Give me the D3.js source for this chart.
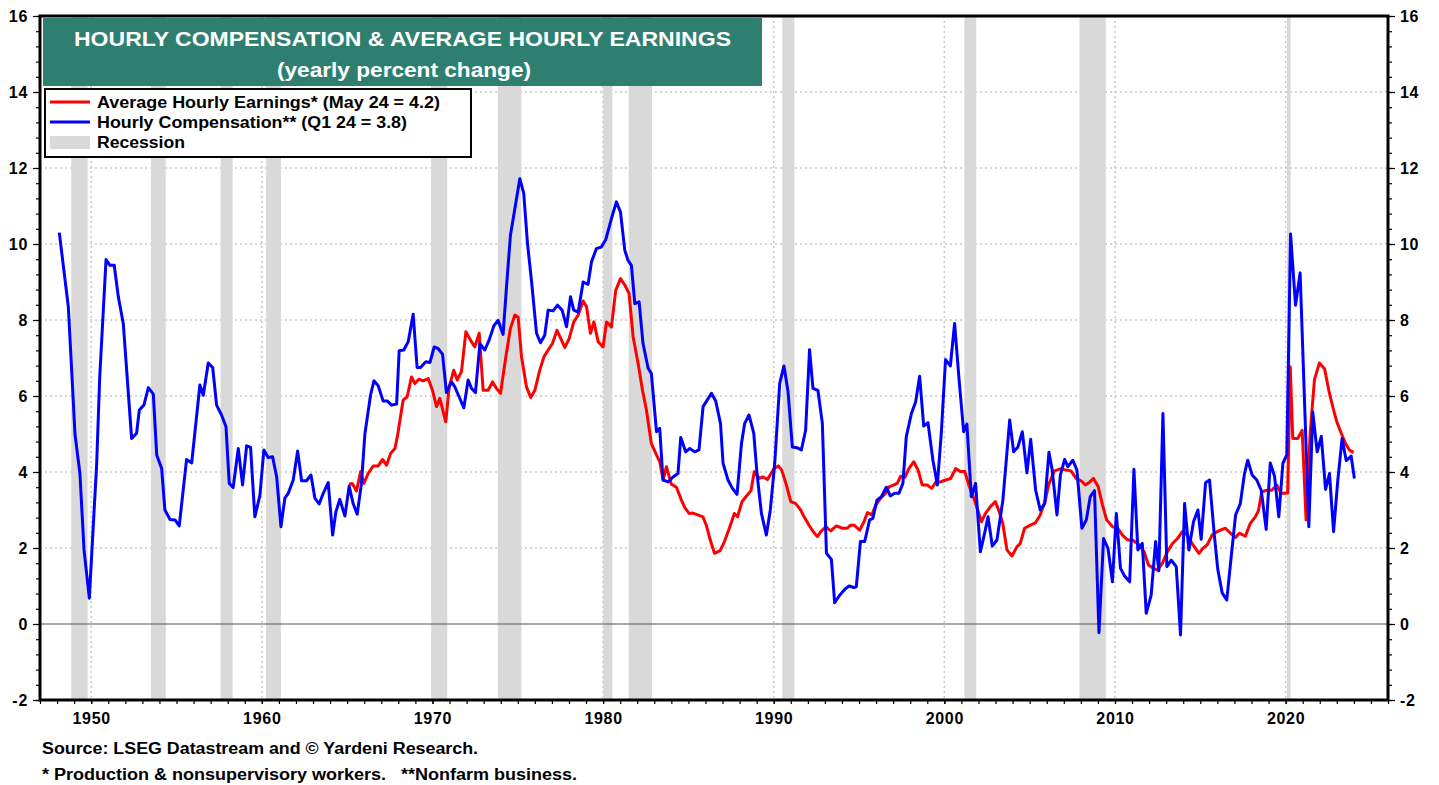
<!DOCTYPE html>
<html>
<head>
<meta charset="utf-8">
<script src="https://cdn.jsdelivr.net/npm/d3@7"></script>
<style>
  body { margin: 0; background: #fff; }
  svg { display: block; font-family: Arial, "Liberation Sans", sans-serif; }
</style>
</head>
<body>
<div id="chart"></div>
<script>
// Hourly compensation, nonfarm business (yoy %, quarterly) [year, value]
const hourlyComp = [
  [1948.13,10.30],[1948.66,8.35],[1949.05,5.0],[1949.34,3.96],[1949.58,1.95],[1949.89,0.68],
  [1950.32,4.2],[1950.5,6.5],[1950.87,9.59],[1951.1,9.44],[1951.35,9.44],[1951.59,8.61],[1951.88,7.91],
  [1952.37,4.88],[1952.66,5.02],[1952.82,5.63],[1953.09,5.76],[1953.35,6.22],[1953.64,6.05],[1953.84,4.45],
  [1954.13,4.09],[1954.32,3.0],[1954.62,2.75],[1954.91,2.74],[1955.16,2.58],[1955.59,4.33],[1955.89,4.24],
  [1956.37,6.29],[1956.57,6.02],[1956.86,6.87],[1957.12,6.75],[1957.35,5.76],[1957.64,5.50],[1957.9,5.19],
  [1958.09,3.70],[1958.32,3.59],[1958.62,4.62],[1958.87,3.66],[1959.11,4.69],[1959.34,4.65],[1959.59,2.82],
  [1959.89,3.39],[1960.12,4.58],[1960.37,4.38],[1960.63,4.40],[1960.87,3.87],[1961.12,2.56],[1961.35,3.31],
  [1961.55,3.44],[1961.84,3.79],[1962.1,4.55],[1962.33,3.77],[1962.62,3.77],[1962.88,3.92],[1963.11,3.31],
  [1963.36,3.16],[1963.6,3.44],[1963.89,3.72],[1964.15,2.34],[1964.34,2.95],[1964.57,3.28],[1964.87,2.84],
  [1965.12,3.63],[1965.35,3.17],[1965.59,2.89],[1965.84,3.70],[1966.04,5.0],[1966.37,6.02],[1966.57,6.40],
  [1966.82,6.27],[1967.11,5.87],[1967.35,5.87],[1967.6,5.76],[1967.9,5.79],[1968.05,7.19],[1968.32,7.21],
  [1968.58,7.43],[1968.87,8.15],[1969.1,6.75],[1969.3,6.75],[1969.61,6.90],[1969.85,6.88],[1970.1,7.29],
  [1970.33,7.25],[1970.59,7.10],[1970.82,6.09],[1971.12,6.37],[1971.31,6.24],[1971.56,5.98],[1971.84,5.69],
  [1972.09,6.42],[1972.29,6.20],[1972.52,6.09],[1972.78,7.38],[1973.07,7.21],[1973.32,7.47],[1973.6,7.85],
  [1973.85,7.99],[1974.14,7.62],[1974.34,8.87],[1974.57,10.23],[1975.12,11.72],[1975.35,11.33],[1975.57,10.01],
  [1975.8,9.05],[1976.1,7.65],[1976.33,7.40],[1976.58,7.60],[1976.78,8.26],[1977.07,8.24],[1977.33,8.39],
  [1977.6,8.26],[1977.86,7.82],[1978.09,8.61],[1978.28,8.26],[1978.54,8.21],[1978.83,9.00],[1979.12,8.94],
  [1979.32,9.53],[1979.61,9.88],[1979.9,9.92],[1980.16,10.12],[1980.49,10.67],[1980.78,11.11],[1981.02,10.84],
  [1981.27,9.84],[1981.46,9.57],[1981.66,9.44],[1981.86,8.43],[1982.11,8.48],[1982.34,7.38],[1982.64,6.73],
  [1982.83,6.59],[1983.13,5.06],[1983.32,5.15],[1983.51,3.79],[1983.81,3.74],[1984.1,3.87],[1984.39,3.96],
  [1984.55,4.91],[1984.84,4.53],[1985.08,4.62],[1985.37,4.53],[1985.62,4.58],[1985.86,5.72],[1986.35,6.07],
  [1986.6,5.87],[1986.88,5.28],[1987.03,4.23],[1987.32,3.79],[1987.58,3.57],[1987.85,3.41],[1988.11,4.75],
  [1988.3,5.28],[1988.55,5.50],[1988.83,5.02],[1989.02,3.96],[1989.28,2.91],[1989.57,2.34],[1989.8,3.0],
  [1990.06,4.23],[1990.35,6.33],[1990.6,6.79],[1990.84,6.11],[1991.09,4.66],[1991.36,4.64],[1991.62,4.58],
  [1991.87,5.10],[1992.1,7.22],[1992.3,6.20],[1992.59,6.15],[1992.85,5.28],[1993.09,1.86],[1993.38,1.70],
  [1993.57,0.56],[1993.87,0.76],[1994.16,0.91],[1994.41,1.0],[1994.69,0.96],[1994.84,0.98],[1995.08,2.17],
  [1995.33,2.17],[1995.62,2.74],[1995.81,2.78],[1996.05,3.26],[1996.31,3.35],[1996.6,3.60],[1996.83,3.37],
  [1997.09,3.44],[1997.34,3.44],[1997.57,3.70],[1997.77,4.93],[1998.07,5.54],[1998.32,5.85],[1998.55,6.52],
  [1998.79,5.21],[1999.04,5.30],[1999.33,4.31],[1999.59,3.66],[1999.82,5.02],[2000.07,6.96],[2000.35,6.79],
  [2000.6,7.91],[2000.85,6.50],[2001.13,5.06],[2001.32,5.26],[2001.58,3.35],[2001.83,3.70],[2002.11,1.90],
  [2002.36,2.39],[2002.56,2.82],[2002.81,2.05],[2003.08,2.21],[2003.43,3.26],[2003.83,5.37],[2004.06,4.53],
  [2004.31,4.66],[2004.57,5.06],[2004.84,3.98],[2005.06,4.86],[2005.35,3.52],[2005.62,3.0],[2005.88,3.17],
  [2006.13,4.52],[2006.32,4.05],[2006.6,2.87],[2006.8,3.92],[2007.05,4.33],[2007.24,4.14],[2007.53,4.31],
  [2007.77,4.05],[2008.06,2.52],[2008.32,2.74],[2008.55,3.35],[2008.8,3.51],[2009.06,-0.23],[2009.33,2.25],
  [2009.59,1.99],[2009.85,1.11],[2010.08,2.91],[2010.32,1.47],[2010.56,1.26],[2010.86,1.11],[2011.11,4.07],
  [2011.34,1.95],[2011.6,2.12],[2011.83,0.28],[2012.12,0.76],[2012.38,2.17],[2012.57,1.40],[2012.81,5.54],
  [2013.04,1.51],[2013.3,1.68],[2013.59,1.51],[2013.84,-0.29],[2014.08,3.17],[2014.33,1.95],[2014.6,2.69],
  [2014.86,3.0],[2015.05,2.23],[2015.31,3.72],[2015.54,3.79],[2015.83,2.30],[2016.03,1.42],[2016.28,0.82],
  [2016.55,0.63],[2016.81,1.77],[2017.07,2.87],[2017.34,3.16],[2017.59,3.96],[2017.78,4.31],[2018.04,3.92],
  [2018.31,3.79],[2018.57,3.52],[2018.86,2.49],[2019.1,4.24],[2019.35,3.89],[2019.6,2.82],[2019.84,4.23],
  [2020.07,4.45],[2020.29,10.26],[2020.58,8.39],[2020.85,9.24],[2021.36,2.56],[2021.59,5.58],[2021.85,4.53],
  [2022.09,4.94],[2022.34,3.54],[2022.57,3.96],[2022.81,2.43],[2023.06,3.79],[2023.31,4.88],[2023.55,4.30],
  [2023.84,4.42],[2024.03,3.83]
];

// Average hourly earnings, production & nonsupervisory workers (yoy %) [year, value]
const avgHourlyEarnings = [
  [1965.12,3.68],[1965.3,3.70],[1965.55,3.50],[1965.79,4.01],[1965.98,3.70],[1966.23,3.96],[1966.53,4.16],
  [1966.82,4.16],[1967.08,4.33],[1967.31,4.18],[1967.55,4.49],[1967.8,4.62],[1967.95,4.95],[1968.28,5.89],
  [1968.52,5.98],[1968.77,6.50],[1968.97,6.33],[1969.2,6.44],[1969.45,6.40],[1969.75,6.46],[1970.0,6.15],
  [1970.24,5.72],[1970.43,5.94],[1970.78,5.32],[1970.98,6.24],[1971.25,6.68],[1971.45,6.42],[1971.7,6.64],
  [1971.96,7.69],[1972.23,7.47],[1972.48,7.29],[1972.74,7.65],[1972.97,6.15],[1973.26,6.15],[1973.52,6.37],
  [1973.75,6.20],[1973.99,6.07],[1974.3,7.03],[1974.57,7.78],[1974.83,8.13],[1975.02,8.08],[1975.22,7.03],
  [1975.51,6.24],[1975.76,5.96],[1976.0,6.15],[1976.29,6.68],[1976.53,7.03],[1976.78,7.21],[1977.03,7.38],
  [1977.3,7.73],[1977.56,7.47],[1977.76,7.28],[1978.01,7.51],[1978.28,7.95],[1978.54,8.13],[1978.83,8.50],
  [1979.03,8.35],[1979.26,7.65],[1979.46,7.95],[1979.71,7.43],[1980.0,7.29],[1980.2,7.95],[1980.49,7.82],
  [1980.74,8.78],[1981.02,9.09],[1981.27,8.92],[1981.52,8.70],[1981.76,7.56],[1982.05,6.86],[1982.31,6.15],
  [1982.54,5.63],[1982.83,4.75],[1983.13,4.45],[1983.32,4.27],[1983.52,3.79],[1983.71,4.14],[1984.0,3.68],
  [1984.3,3.60],[1984.59,3.26],[1984.79,3.06],[1985.04,2.91],[1985.27,2.92],[1985.62,2.86],[1985.85,2.82],
  [1986.05,2.60],[1986.28,2.21],[1986.53,1.86],[1986.86,1.93],[1987.11,2.17],[1987.4,2.52],[1987.69,2.91],
  [1987.88,2.82],[1988.14,3.22],[1988.37,3.35],[1988.67,3.51],[1988.86,4.01],[1989.15,3.83],[1989.38,3.87],
  [1989.63,3.80],[1990.02,4.09],[1990.27,4.16],[1990.47,4.05],[1990.74,3.66],[1991.0,3.22],[1991.29,3.17],
  [1991.58,3.0],[1991.78,2.82],[1992.07,2.60],[1992.36,2.40],[1992.56,2.30],[1992.76,2.43],[1993.05,2.56],
  [1993.34,2.45],[1993.67,2.58],[1994.02,2.52],[1994.31,2.52],[1994.51,2.60],[1994.71,2.60],[1995.04,2.47],
  [1995.29,2.69],[1995.49,2.93],[1995.75,2.87],[1995.98,3.13],[1996.27,3.31],[1996.56,3.44],[1996.76,3.61],
  [1997.05,3.66],[1997.24,3.70],[1997.44,3.89],[1997.69,3.86],[1997.92,4.09],[1998.21,4.27],[1998.46,4.05],
  [1998.7,3.66],[1998.99,3.66],[1999.25,3.57],[1999.52,3.74],[1999.77,3.74],[2000.07,3.79],[2000.37,3.83],
  [2000.66,4.09],[2000.95,4.01],[2001.2,4.01],[2001.43,3.66],[2001.73,3.31],[2002.02,2.91],[2002.17,2.69],
  [2002.41,2.91],[2002.7,3.09],[2002.99,3.22],[2003.22,2.95],[2003.42,2.65],[2003.67,1.95],[2003.96,1.79],
  [2004.25,2.03],[2004.45,2.12],[2004.7,2.52],[2005.04,2.60],[2005.33,2.66],[2005.62,2.87],[2005.92,3.26],
  [2006.11,3.66],[2006.45,4.03],[2006.84,4.09],[2007.13,4.05],[2007.42,4.03],[2007.72,3.83],[2008.01,3.77],
  [2008.26,3.66],[2008.53,3.74],[2008.74,3.83],[2009.02,3.61],[2009.27,3.13],[2009.51,2.74],[2009.86,2.56],
  [2010.15,2.52],[2010.44,2.34],[2010.74,2.21],[2011.03,2.21],[2011.42,2.08],[2011.71,1.90],[2011.96,1.55],
  [2012.24,1.47],[2012.49,1.42],[2012.78,1.60],[2013.07,1.90],[2013.37,2.12],[2013.66,2.25],[2013.95,2.43],
  [2014.24,2.34],[2014.57,2.08],[2014.92,1.86],[2015.15,1.99],[2015.4,2.08],[2015.69,2.34],[2015.99,2.43],
  [2016.28,2.49],[2016.47,2.52],[2016.76,2.39],[2017.06,2.28],[2017.29,2.39],[2017.64,2.31],[2017.93,2.65],
  [2018.22,2.82],[2018.41,2.98],[2018.6,3.48],[2018.9,3.52],[2019.19,3.52],[2019.48,3.66],[2019.73,3.44],
  [2019.93,3.44],[2020.12,3.45],[2020.27,6.77],[2020.42,4.88],[2020.71,4.88],[2020.97,5.10],[2021.2,2.74],
  [2021.44,5.02],[2021.69,6.43],[2021.98,6.87],[2022.28,6.72],[2022.53,6.15],[2022.76,5.72],[2023.0,5.32],
  [2023.26,5.02],[2023.51,4.75],[2023.74,4.58],[2023.98,4.51]
];

// NBER recessions [start, end]
const recessions = [
  [1948.83,1949.79],[1953.5,1954.37],[1957.58,1958.29],[1960.25,1961.12],[1969.92,1970.87],
  [1973.83,1975.21],[1980.0,1980.54],[1981.5,1982.87],[1990.5,1991.21],[2001.17,2001.87],
  [2007.92,2009.46],[2020.08,2020.29]
];

const yMajor = [-2, 0, 2, 4, 6, 8, 10, 12, 14, 16];
const xMajor = [1950, 1960, 1970, 1980, 1990, 2000, 2010, 2020];

const titleLines = ["HOURLY COMPENSATION & AVERAGE HOURLY EARNINGS", "(yearly percent change)"];
const legendItems = [
  { label: "Average Hourly Earnings* (May 24 = 4.2)", color: "#ff0000", type: "line", len: 343 },
  { label: "Hourly Compensation** (Q1 24 = 3.8)", color: "#0000ff", type: "line", len: 310 },
  { label: "Recession", color: "#d9d9d9", type: "band", len: 88 }
];
const footnotes = [
  "Source: LSEG Datastream and © Yardeni Research.",
  "* Production & nonsupervisory workers.   **Nonfarm business."
];

const W = 1439, H = 785;
const plot = { left: 40, right: 1388, top: 16, bottom: 700 };

const svg = d3.select("#chart").append("svg")
  .attr("width", W).attr("height", H)
  .attr("viewBox", `0 0 ${W} ${H}`);

const x = d3.scaleLinear().domain([1947, 2026]).range([plot.left, plot.right]);
const y = d3.scaleLinear().domain([-2, 16]).range([plot.bottom, plot.top]);

// gridlines
const grid = svg.append("g");
grid.selectAll("line.h")
  .data(yMajor.filter(d => d !== 0 && d !== -2 && d !== 16))
  .join("line")
  .attr("x1", plot.left).attr("x2", plot.right)
  .attr("y1", d => y(d)).attr("y2", d => y(d))
  .attr("stroke", "#c8c8c8").attr("stroke-width", 1.5).attr("stroke-dasharray", "2,3");
grid.selectAll("line.v")
  .data(xMajor)
  .join("line")
  .attr("x1", d => x(d)).attr("x2", d => x(d))
  .attr("y1", plot.top).attr("y2", plot.bottom)
  .attr("stroke", "#c8c8c8").attr("stroke-width", 1.5).attr("stroke-dasharray", "2,3");

// recession bands
svg.append("g").selectAll("rect")
  .data(recessions)
  .join("rect")
  .attr("x", d => x(d[0]))
  .attr("width", d => Math.max(x(d[1]) - x(d[0]), 2))
  .attr("y", plot.top).attr("height", plot.bottom - plot.top)
  .attr("fill", "#d9d9d9");

// zero line
svg.append("line")
  .attr("x1", plot.left).attr("x2", plot.right)
  .attr("y1", y(0)).attr("y2", y(0))
  .attr("stroke", "#555").attr("stroke-width", 1.2);

// series
const line = d3.line().x(d => x(d[0])).y(d => y(d[1]));
svg.append("path").datum(avgHourlyEarnings)
  .attr("d", line).attr("fill", "none")
  .attr("stroke", "#ff0000").attr("stroke-width", 3).attr("stroke-linejoin", "round");
svg.append("path").datum(hourlyComp)
  .attr("d", line).attr("fill", "none")
  .attr("stroke", "#0000ff").attr("stroke-width", 3).attr("stroke-linejoin", "round");

// axes
const fontCss = "bold 16px Arial, 'Liberation Sans', sans-serif";
const minorY = d3.range(-20, 161, 4).map(d => d / 10);
const minorX = d3.range(1947, 2027);

function styleAxis(g) {
  g.select(".domain").remove();
  g.selectAll(".tick line").attr("stroke", "#000").attr("stroke-width", 1.2);
  g.selectAll(".tick text").style("font", fontCss).style("letter-spacing", "0.7px").attr("fill", "#000");
}

svg.append("g").attr("transform", `translate(${plot.left},0)`)
  .call(d3.axisLeft(y).tickValues(minorY).tickSize(4).tickFormat(""))
  .call(styleAxis);
svg.append("g").attr("transform", `translate(${plot.left},0)`)
  .call(d3.axisLeft(y).tickValues(yMajor).tickSize(7).tickPadding(5).tickFormat(d => String(d)))
  .call(styleAxis);
svg.append("g").attr("transform", `translate(${plot.right},0)`)
  .call(d3.axisRight(y).tickValues(minorY).tickSize(4).tickFormat(""))
  .call(styleAxis);
svg.append("g").attr("transform", `translate(${plot.right},0)`)
  .call(d3.axisRight(y).tickValues(yMajor).tickSize(7).tickPadding(5).tickFormat(d => String(d)))
  .call(styleAxis);
svg.append("g").attr("transform", `translate(0,${plot.bottom})`)
  .call(d3.axisBottom(x).tickValues(minorX).tickSize(4).tickFormat(""))
  .call(styleAxis);
svg.append("g").attr("transform", `translate(0,${plot.bottom})`)
  .call(d3.axisBottom(x).tickValues(xMajor).tickSize(4).tickPadding(9).tickFormat(d => String(d)))
  .call(styleAxis);

// frame
svg.append("rect")
  .attr("x", plot.left).attr("y", plot.top)
  .attr("width", plot.right - plot.left).attr("height", plot.bottom - plot.top)
  .attr("fill", "none").attr("stroke", "#000").attr("stroke-width", 3);

// title box
svg.append("rect")
  .attr("x", 43).attr("y", 18).attr("width", 719).attr("height", 68)
  .attr("fill", "#2e7f70");
svg.append("text")
  .attr("x", 74).attr("y", 46)
  .attr("textLength", 657).attr("lengthAdjust", "spacingAndGlyphs")
  .style("font", "bold 21px Arial, 'Liberation Sans', sans-serif")
  .attr("fill", "#fff")
  .text(titleLines[0]);
svg.append("text")
  .attr("x", 277).attr("y", 77)
  .attr("textLength", 254).attr("lengthAdjust", "spacingAndGlyphs")
  .style("font", "bold 21px Arial, 'Liberation Sans', sans-serif")
  .attr("fill", "#fff")
  .text(titleLines[1]);

// legend
const lg = svg.append("g");
lg.append("rect")
  .attr("x", 45).attr("y", 89).attr("width", 426).attr("height", 68)
  .attr("fill", "#fff").attr("stroke", "#000").attr("stroke-width", 2);
const rows = lg.selectAll("g.row")
  .data(legendItems)
  .join("g")
  .attr("transform", (d, i) => `translate(0,${102 + i * 20})`);
rows.filter(d => d.type === "line").append("line")
  .attr("x1", 50).attr("x2", 90).attr("y1", 0).attr("y2", 0)
  .attr("stroke", d => d.color).attr("stroke-width", 3);
rows.filter(d => d.type === "band").append("rect")
  .attr("x", 50).attr("width", 40).attr("y", -6).attr("height", 13)
  .attr("fill", d => d.color);
rows.append("text")
  .attr("x", 97).attr("y", 6)
  .attr("textLength", d => d.len).attr("lengthAdjust", "spacingAndGlyphs")
  .style("font", "bold 16.5px Arial, 'Liberation Sans', sans-serif")
  .attr("fill", "#000")
  .text(d => d.label);

// footnotes
svg.append("text")
  .attr("x", 42).attr("y", 754)
  .attr("textLength", 436).attr("lengthAdjust", "spacingAndGlyphs")
  .style("font", "bold 16px Arial, 'Liberation Sans', sans-serif")
  .text(footnotes[0]);
svg.append("text")
  .attr("x", 42).attr("y", 780)
  .attr("textLength", 535).attr("lengthAdjust", "spacingAndGlyphs")
  .style("font", "bold 16px Arial, 'Liberation Sans', sans-serif")
  .style("white-space", "pre")
  .text(footnotes[1]);
</script>
</body>
</html>
